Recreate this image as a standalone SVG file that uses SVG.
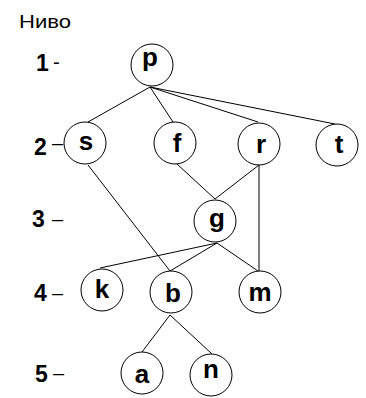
<svg xmlns="http://www.w3.org/2000/svg" width="366" height="398" viewBox="0 0 366 398">
<style>
  .node circle { fill: #ffffff; stroke: #000000; stroke-width: 1; }
  .node text { font-family: "Liberation Sans", Arial, sans-serif; font-weight: bold; font-size: 26px; text-anchor: middle; fill: #000000; }
  #edges line { stroke: #000000; stroke-width: 1; }
  .lvl { font-family: "Liberation Sans", Arial, sans-serif; font-weight: bold; font-size: 23px; fill: #000000; }
  .dash { font-family: "Liberation Sans", Arial, sans-serif; font-size: 20px; fill: #000000; }
  .title { font-family: "Liberation Sans", Arial, sans-serif; font-size: 19px; fill: #000000; }
</style>
<rect width="366" height="398" fill="#ffffff"/>
<text class="title" x="19" y="27.5" textLength="52" lengthAdjust="spacingAndGlyphs">Ниво</text>
<g id="levels">
  <text class="lvl" x="36" y="71">1</text><text class="dash" x="53" y="69">-</text>
  <text class="lvl" x="34" y="155">2</text><text class="dash" x="52" y="150">–</text>
  <text class="lvl" x="32" y="227">3</text><text class="dash" x="52" y="226">–</text>
  <text class="lvl" x="34" y="301">4</text><text class="dash" x="52" y="300">–</text>
  <text class="lvl" x="35" y="382">5</text><text class="dash" x="53" y="380">–</text>
</g>
<g id="edges">
  <line x1="150" y1="87" x2="88" y2="122"/>
  <line x1="150" y1="87" x2="173" y2="122"/>
  <line x1="150" y1="87" x2="258" y2="122"/>
  <line x1="150" y1="87" x2="335" y2="124"/>
  <line x1="88" y1="165" x2="170" y2="271"/>
  <line x1="177" y1="164" x2="215" y2="199"/>
  <line x1="259" y1="165" x2="215" y2="199"/>
  <line x1="259" y1="165" x2="259" y2="271"/>
  <line x1="217" y1="243" x2="100" y2="268"/>
  <line x1="217" y1="243" x2="170" y2="271"/>
  <line x1="217" y1="243" x2="258" y2="271"/>
  <line x1="170" y1="315" x2="142" y2="352"/>
  <line x1="170" y1="315" x2="212" y2="354"/>
</g>
<g id="node-p" class="node"><circle cx="152" cy="65" r="21"/><text x="150" y="66">p</text></g>
<g id="node-s" class="node"><circle cx="85" cy="143" r="21"/><text x="86" y="150">s</text></g>
<g id="node-f" class="node"><circle cx="175" cy="143" r="21"/><text x="177" y="152">f</text></g>
<g id="node-r" class="node"><circle cx="259" cy="144" r="21"/><text x="261" y="153">r</text></g>
<g id="node-t" class="node"><circle cx="337" cy="145" r="21"/><text x="339" y="153">t</text></g>
<g id="node-g" class="node"><circle cx="215" cy="221" r="21"/><text x="217" y="227">g</text></g>
<g id="node-k" class="node"><circle cx="102" cy="290" r="21"/><text x="102" y="298">k</text></g>
<g id="node-b" class="node"><circle cx="171" cy="292" r="21"/><text x="173" y="302">b</text></g>
<g id="node-m" class="node"><circle cx="260" cy="292" r="21"/><text x="260" y="301">m</text></g>
<g id="node-a" class="node"><circle cx="142" cy="373" r="21"/><text x="142" y="383">a</text></g>
<g id="node-n" class="node"><circle cx="211" cy="375" r="21"/><text x="211" y="378">n</text></g>
</svg>
